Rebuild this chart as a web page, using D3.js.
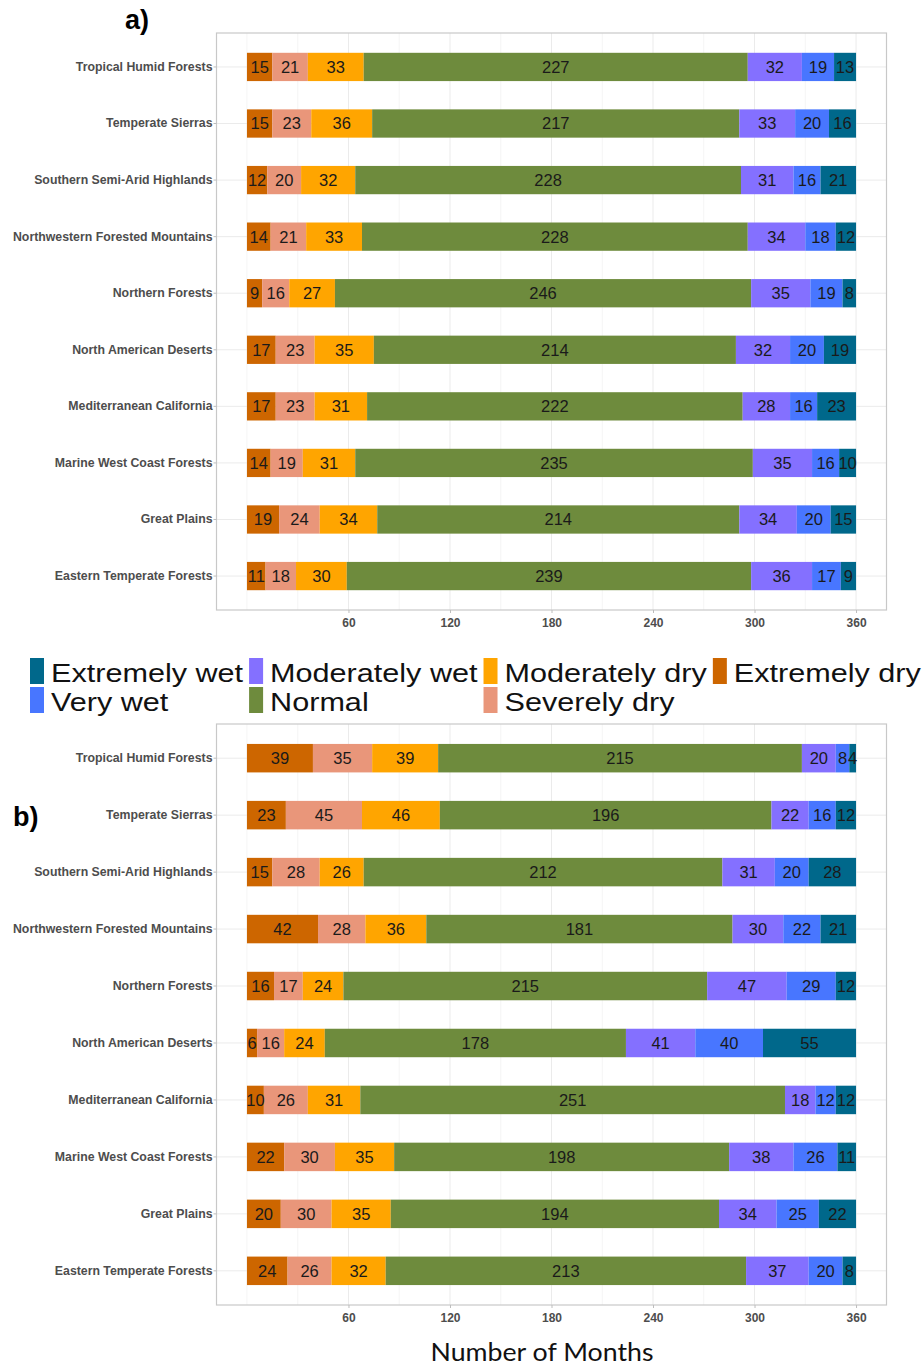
<!DOCTYPE html>
<html>
<head>
<meta charset="utf-8">
<script src="https://cdn.jsdelivr.net/npm/d3@7"></script>
<style>
  html, body { margin: 0; padding: 0; background: #ffffff; }
  svg { display: block; }
</style>
</head>
<body>
<svg id="chart" width="924" height="1366"></svg>
<script>
// Ecoregions, listed top to bottom
const regions = [
  "Tropical Humid Forests",
  "Temperate Sierras",
  "Southern Semi-Arid Highlands",
  "Northwestern Forested Mountains",
  "Northern Forests",
  "North American Deserts",
  "Mediterranean California",
  "Marine West Coast Forests",
  "Great Plains",
  "Eastern Temperate Forests"
];

// Drought/wetness classes, in stacking order (left to right)
const classes = ["Extremely dry", "Severely dry", "Moderately dry", "Normal",
                 "Moderately wet", "Very wet", "Extremely wet"];
const classColors = ["#CD6600", "#E9967A", "#FFA500", "#6E8B3D",
                     "#8470FF", "#4876FF", "#00688B"];

// Panel a) — months per class for each ecoregion
const aExtremelyDry  = [15, 15, 12, 14, 9, 17, 17, 14, 19, 11];
const aSeverelyDry   = [21, 23, 20, 21, 16, 23, 23, 19, 24, 18];
const aModeratelyDry = [33, 36, 32, 33, 27, 35, 31, 31, 34, 30];
const aNormal        = [227, 217, 228, 228, 246, 214, 222, 235, 214, 239];
const aModeratelyWet = [32, 33, 31, 34, 35, 32, 28, 35, 34, 36];
const aVeryWet       = [19, 20, 16, 18, 19, 20, 16, 16, 20, 17];
const aExtremelyWet  = [13, 16, 21, 12, 8, 19, 23, 10, 15, 9];

// Panel b) — months per class for each ecoregion
const bExtremelyDry  = [39, 23, 15, 42, 16, 6, 10, 22, 20, 24];
const bSeverelyDry   = [35, 45, 28, 28, 17, 16, 26, 30, 30, 26];
const bModeratelyDry = [39, 46, 26, 36, 24, 24, 31, 35, 35, 32];
const bNormal        = [215, 196, 212, 181, 215, 178, 251, 198, 194, 213];
const bModeratelyWet = [20, 22, 31, 30, 47, 41, 18, 38, 34, 37];
const bVeryWet       = [8, 16, 20, 22, 29, 40, 12, 26, 25, 20];
const bExtremelyWet  = [4, 12, 28, 21, 12, 55, 12, 11, 22, 8];

const xTicks = [60, 120, 180, 240, 300, 360];
const xMinor = [0, 30, 90, 150, 210, 270, 330];
const xTitle = "Number of Months";

// Legend order: two rows, filled column by column
const legendOrder = ["Extremely wet", "Very wet", "Moderately wet", "Normal",
                     "Moderately dry", "Severely dry", "Extremely dry"];

const panels = [
  { tag: "a)", series: [aExtremelyDry, aSeverelyDry, aModeratelyDry, aNormal, aModeratelyWet, aVeryWet, aExtremelyWet],
    box: { left: 216.5, right: 886.5, top: 33, bottom: 610 }, tagPos: [125, 29] },
  { tag: "b)", series: [bExtremelyDry, bSeverelyDry, bModeratelyDry, bNormal, bModeratelyWet, bVeryWet, bExtremelyWet],
    box: { left: 216.5, right: 886.5, top: 724, bottom: 1305 }, tagPos: [13, 826] }
];

const color = d3.scaleOrdinal().domain(classes).range(classColors);
const svg = d3.select("#chart");
const axisFont = "'Liberation Sans', Arial, sans-serif";

panels.forEach(p => {
  const b = p.box;
  const x = d3.scaleLinear().domain([-18, 378]).range([b.left, b.right]);
  const y = d3.scaleBand().domain(regions).range([b.top, b.bottom])
    .paddingInner(0.5).paddingOuter(0.35);

  // one row object per region for the stack layout
  const rows = regions.map((r, i) => {
    const o = { region: r };
    classes.forEach((c, k) => { o[c] = p.series[k][i]; });
    return o;
  });
  const stacked = d3.stack().keys(classes)(rows);

  const g = svg.append("g");

  // grid
  g.selectAll(".minor").data(xMinor).join("line")
    .attr("x1", d => x(d)).attr("x2", d => x(d))
    .attr("y1", b.top).attr("y2", b.bottom)
    .attr("stroke", "#f2f2f2").attr("stroke-width", 0.8);
  g.selectAll(".major").data(xTicks).join("line")
    .attr("x1", d => x(d)).attr("x2", d => x(d))
    .attr("y1", b.top).attr("y2", b.bottom)
    .attr("stroke", "#ebebeb").attr("stroke-width", 1);
  g.selectAll(".hgrid").data(regions).join("line")
    .attr("x1", b.left).attr("x2", b.right)
    .attr("y1", d => y(d) + y.bandwidth() / 2).attr("y2", d => y(d) + y.bandwidth() / 2)
    .attr("stroke", "#ebebeb").attr("stroke-width", 1);

  // stacked bars
  const layers = g.selectAll(".layer").data(stacked).join("g")
    .attr("fill", d => color(d.key));
  layers.selectAll("rect").data(d => d).join("rect")
    .attr("x", d => x(d[0]))
    .attr("width", d => x(d[1]) - x(d[0]))
    .attr("y", d => y(d.data.region))
    .attr("height", y.bandwidth());

  // value labels centred in each segment
  const labels = g.append("g")
    .attr("font-family", axisFont).attr("font-size", 16.5).attr("fill", "#1a1a1a")
    .attr("text-anchor", "middle");
  stacked.forEach(layer => {
    labels.selectAll(null).data(layer).join("text")
      .attr("x", d => x((d[0] + d[1]) / 2))
      .attr("y", d => y(d.data.region) + y.bandwidth() / 2)
      .attr("dy", "0.36em")
      .text(d => d[1] - d[0]);
  });

  // panel border
  g.append("rect")
    .attr("x", b.left).attr("y", b.top)
    .attr("width", b.right - b.left).attr("height", b.bottom - b.top)
    .attr("fill", "none").attr("stroke", "#c8c8c8").attr("stroke-width", 1.2);

  // y axis
  const ya = g.append("g").attr("transform", `translate(${b.left},0)`)
    .call(d3.axisLeft(y).tickSize(3).tickPadding(1));
  ya.select(".domain").remove();
  ya.selectAll(".tick line").attr("stroke", "#bdbdbd");
  ya.selectAll(".tick text")
    .attr("font-family", axisFont).attr("font-size", 12.3)
    .attr("font-weight", "bold").attr("fill", "#4d4d4d");

  // x axis
  const xa = g.append("g").attr("transform", `translate(0,${b.bottom})`)
    .call(d3.axisBottom(x).tickValues(xTicks).tickSize(3).tickPadding(5));
  xa.select(".domain").remove();
  xa.selectAll(".tick line").attr("stroke", "#bdbdbd");
  xa.selectAll(".tick text")
    .attr("font-family", axisFont).attr("font-size", 12)
    .attr("font-weight", "bold").attr("fill", "#4d4d4d");

  // panel tag
  svg.append("text")
    .attr("x", p.tagPos[0]).attr("y", p.tagPos[1])
    .attr("font-family", axisFont).attr("font-size", 27).attr("font-weight", "bold")
    .attr("fill", "#000").text(p.tag);
});

// legend between the panels
const legend = svg.append("g").attr("font-family", axisFont);
const keyW = 14, keyH = 26, rowStep = 29, legendTop = 658, stretch = 1.2;
let colX = 30;
for (let c = 0; c < Math.ceil(legendOrder.length / 2); c++) {
  const items = legendOrder.slice(c * 2, c * 2 + 2);
  let maxW = 0;
  items.forEach((name, r) => {
    const ky = legendTop + r * rowStep;
    legend.append("rect")
      .attr("x", colX).attr("y", ky).attr("width", keyW).attr("height", keyH)
      .attr("fill", color(name));
    const t = legend.append("text")
      .attr("transform", `translate(${colX + keyW + 7},${ky + keyH - 2}) scale(${stretch},1)`)
      .attr("font-size", 25.5).attr("fill", "#111").text(name);
    maxW = Math.max(maxW, t.node().getComputedTextLength() * stretch);
  });
  colX = colX + keyW + 7 + maxW + 6;
}

// x axis title
svg.append("text")
  .attr("x", 542).attr("y", 1361)
  .attr("text-anchor", "middle")
  .attr("font-family", "Lato, 'Open Sans', sans-serif").attr("font-size", 25)
  .attr("textLength", 223).attr("lengthAdjust", "spacingAndGlyphs")
  .attr("fill", "#111").text(xTitle);
</script>
</body>
</html>
